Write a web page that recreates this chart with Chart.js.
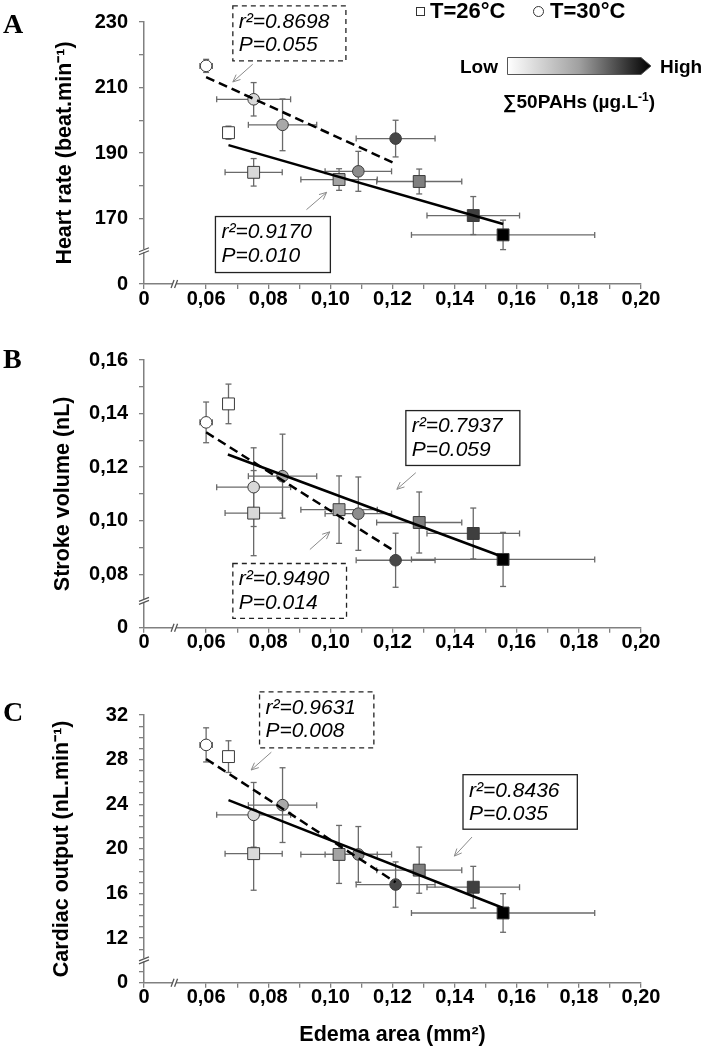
<!DOCTYPE html>
<html>
<head>
<meta charset="utf-8">
<script src="https://cdn.jsdelivr.net/npm/chart.js@4.4.1/dist/chart.umd.min.js"></script>
<style>
  html, body { margin:0; padding:0; background:#fff; }
  #page { position:relative; width:703px; height:1049px; overflow:hidden; background:#fff; }
  canvas { position:absolute; left:0; }
  .t { position:absolute; font-family:"Liberation Sans", Arial, sans-serif; font-weight:bold; color:#000; white-space:nowrap; line-height:1; }
  .letter { position:absolute; font-family:"Liberation Serif","Times New Roman",serif; font-weight:bold; font-size:28px; line-height:1; color:#000; }
  .sym { position:absolute; border:1px solid #333; background:#fff; box-sizing:border-box; }
</style>
</head>
<body>
<div id="page">
  <canvas id="cA" width="703" height="320" style="top:0px"></canvas>
  <canvas id="cB" width="703" height="340" style="top:320px"></canvas>
  <canvas id="cC" width="703" height="389" style="top:660px"></canvas>

  <div class="letter" style="left:3px;top:10px">A</div>
  <div class="letter" style="left:3px;top:345px">B</div>
  <div class="letter" style="left:3px;top:698px">C</div>

  <div class="sym" style="left:416px;top:7px;width:9px;height:9px"></div>
  <div class="t" style="left:430px;top:0px;font-size:22px">T=26°C</div>
  <div class="sym" style="left:533px;top:6px;width:11px;height:11px;border-radius:50%"></div>
  <div class="t" style="left:550px;top:0px;font-size:22px">T=30°C</div>

  <div class="t" style="left:460px;top:57px;font-size:19px">Low</div>
  <svg style="position:absolute;left:0;top:0" width="703" height="120">
    <defs>
      <linearGradient id="gr" x1="0" y1="0" x2="1" y2="0">
        <stop offset="0" stop-color="#ffffff"/>
        <stop offset="0.5" stop-color="#a0a0a0"/>
        <stop offset="1" stop-color="#000000"/>
      </linearGradient>
    </defs>
    <polygon points="507.5,57.5 641,57.5 651,66 641,74.5 507.5,74.5" fill="url(#gr)" stroke="#555" stroke-width="1"/>
  </svg>
  <div class="t" style="left:660px;top:57px;font-size:19px">High</div>
  <div class="t" style="left:503px;top:92px;font-size:19px">∑50PAHs (µg.L<sup style="font-size:12px;vertical-align:7px;line-height:0">-1</sup>)</div>
</div>

<script>
// ---------------- DATA ----------------
// Edema area (x, shared by all panels), T=30°C circles and T=26°C squares
const edemaCircles    = [0.060, 0.0753, 0.0846, 0.109, 0.121];
const edemaCirclesErr = [0.002, 0.0119, 0.0110, 0.0107, 0.0127];
const edemaSquares    = [0.0672, 0.0753, 0.1028, 0.1286, 0.146, 0.1556];
const edemaSquaresErr = [0.0, 0.0092, 0.0123, 0.0137, 0.0149, 0.0295];

// Panel A: heart rate (beat.min-1)
const hrCircles    = [216.6, 206.4, 198.6, 184.4, 194.4];
const hrCirclesErr = [2.0, 5.1, 7.9, 6.1, 5.6];
const hrSquares    = [196.2, 184.1, 181.9, 181.3, 170.9, 165.0];
const hrSquaresErr = [2.0, 4.2, 3.3, 3.8, 5.8, 4.5];
const hrFit30 = [[0.060, 213.2], [0.1203, 187.0]];
const hrFit26 = [[0.0672, 192.4], [0.1556, 168.3]];

// Panel B: stroke volume (nL)
const svCircles    = [0.1367, 0.1125, 0.1166, 0.1026, 0.0852];
const svCirclesErr = [0.0076, 0.0147, 0.0157, 0.0137, 0.0101];
const svSquares    = [0.1436, 0.1028, 0.1041, 0.0993, 0.0952, 0.0855];
const svSquaresErr = [0.0074, 0.0159, 0.0126, 0.0114, 0.0095, 0.0101];
const svFit30 = [[0.060, 0.1330], [0.1197, 0.0893]];
const svFit26 = [[0.067, 0.1247], [0.1556, 0.0864]];

// Panel C: cardiac output (nL.min-1)
const coCircles    = [29.32, 23.05, 23.92, 19.5, 16.8];
const coCirclesErr = [1.53, 2.9, 3.35, 2.5, 2.03];
const coSquares    = [28.27, 19.57, 19.5, 18.09, 16.56, 14.25];
const coSquaresErr = [1.42, 3.28, 2.6, 2.07, 1.87, 1.73];
const coFit30 = [[0.060, 28.06], [0.121, 17.0]];
const coFit26 = [[0.0672, 24.37], [0.1556, 14.7]];

// Tick values and labels (axis breaks: lowest tick is labelled "0")
const edemaTicks      = [0.04, 0.06, 0.07, 0.08, 0.09, 0.10, 0.11, 0.12, 0.13, 0.14, 0.15, 0.16, 0.17, 0.18, 0.19, 0.20];
const edemaTickLabels = ['0', '0,06', '', '0,08', '', '0,10', '', '0,12', '', '0,14', '', '0,16', '', '0,18', '', '0,20'];
const hrTicks      = [150, 170, 180, 190, 200, 210, 220, 230];
const hrTickLabels = ['0', '170', '', '190', '', '210', '', '230'];
const svTicks      = [0.06, 0.08, 0.09, 0.10, 0.11, 0.12, 0.13, 0.14, 0.15, 0.16];
const svTickLabels = ['0', '0,08', '', '0,10', '', '0,12', '', '0,14', '', '0,16'];
const coTicks      = [8, 9, 11, 12, 13, 14, 15, 16, 17, 18, 19, 20, 21, 22, 23, 24, 25, 26, 27, 28, 29, 30, 31, 32];
const coTickLabels = ['0', '', '', '12', '', '', '', '16', '', '', '', '20', '', '', '', '24', '', '', '', '28', '', '', '', '32'];

// Shades (PAH concentration, low -> high)
const circleShades = ['#ffffff', '#d9d9d9', '#a8a8a8', '#8c8c8c', '#474747'];
const squareShades = ['#ffffff', '#d9d9d9', '#a3a3a3', '#7f7f7f', '#3f3f3f', '#000000'];

// ---------------- DRAWING ----------------
const FAM = '"Liberation Sans", Arial, Helvetica, sans-serif';

function labelFor(vals, labels, v) {
  const i = vals.findIndex(t => Math.abs(t - v) < 1e-9);
  return i < 0 ? '' : labels[i];
}

const errorBars = {
  id: 'errorBars',
  beforeDatasetsDraw(chart) {
    const { ctx, scales: { x, y } } = chart;
    ctx.save();
    ctx.strokeStyle = '#6a6a6a';
    ctx.lineWidth = 1.3;
    const seg = (a, b, c, d) => { ctx.beginPath(); ctx.moveTo(a, b); ctx.lineTo(c, d); ctx.stroke(); };
    const cap = 3;
    chart.data.datasets.forEach(ds => {
      if (!ds.errX) return;
      ds.data.forEach((p, i) => {
        const px = x.getPixelForValue(p.x), py = y.getPixelForValue(p.y);
        const ex = ds.errX[i], ey = ds.errY[i];
        if (ex > 0) {
          const xl = x.getPixelForValue(p.x - ex), xr = x.getPixelForValue(p.x + ex);
          seg(xl, py, xr, py); seg(xl, py - cap, xl, py + cap); seg(xr, py - cap, xr, py + cap);
        }
        if (ey > 0) {
          const yt = y.getPixelForValue(p.y + ey), yb = y.getPixelForValue(p.y - ey);
          seg(px, yt, px, yb); seg(px - cap, yt, px + cap, yt); seg(px - cap, yb, px + cap, yb);
        }
      });
    });
    ctx.restore();
  }
};

function extrasPlugin(notes, yBreak) {
  return {
    id: 'extras',
    afterDraw(chart) {
      const { ctx, scales: { x, y } } = chart;
      ctx.save();
      // axis breaks
      const ax = x.left, ay = y.bottom;
      const by = y.getPixelForValue(yBreak);
      ctx.fillStyle = '#fff';
      ctx.fillRect(ax - 2, by - 2, 4, 3);
      ctx.strokeStyle = '#555'; ctx.lineWidth = 1.3;
      ctx.beginPath();
      ctx.moveTo(ax - 5, by + 0.5); ctx.lineTo(ax + 5, by - 3.5);
      ctx.moveTo(ax - 5, by + 3.5); ctx.lineTo(ax + 5, by - 0.5);
      ctx.stroke();
      const bx = x.getPixelForValue(0.05);
      ctx.fillRect(bx - 2, ay - 2, 3, 4);
      ctx.beginPath();
      ctx.moveTo(bx - 4, ay + 4); ctx.lineTo(bx - 1, ay - 4);
      ctx.moveTo(bx - 0.5, ay + 4); ctx.lineTo(bx + 2.5, ay - 4);
      ctx.stroke();

      notes.forEach(n => {
        const l = x.getPixelForValue(n.x0), r = x.getPixelForValue(n.x1);
        const t = y.getPixelForValue(n.y1), b = y.getPixelForValue(n.y0);
        ctx.fillStyle = '#fff';
        ctx.fillRect(l, t, r - l, b - t);
        ctx.setLineDash(n.dashed ? [5, 4] : []);
        ctx.strokeStyle = '#222'; ctx.lineWidth = 1.3;
        ctx.strokeRect(l, t, r - l, b - t);
        ctx.setLineDash([]);
        ctx.fillStyle = '#000';
        ctx.font = 'italic 21px ' + FAM;
        ctx.textBaseline = 'middle'; ctx.textAlign = 'left';
        ctx.fillText(n.lines[0], l + 6, t + 16);
        ctx.fillText(n.lines[1], l + 6, t + 39.5);
        const [a0, a1] = n.arrow;
        const x0 = x.getPixelForValue(a0[0]), y0 = y.getPixelForValue(a0[1]);
        const x1 = x.getPixelForValue(a1[0]), y1 = y.getPixelForValue(a1[1]);
        ctx.strokeStyle = '#8a8a8a'; ctx.lineWidth = 1;
        ctx.beginPath(); ctx.moveTo(x0, y0); ctx.lineTo(x1, y1);
        const ang = Math.atan2(y1 - y0, x1 - x0), h = 8;
        ctx.moveTo(x1, y1); ctx.lineTo(x1 - h * Math.cos(ang - 0.42), y1 - h * Math.sin(ang - 0.42));
        ctx.moveTo(x1, y1); ctx.lineTo(x1 - h * Math.cos(ang + 0.42), y1 - h * Math.sin(ang + 0.42));
        ctx.stroke();
      });
      ctx.restore();
    }
  };
}

function buildPanel(id, p) {
  const pts = (xs, ys) => xs.map((x, i) => ({ x, y: ys[i] }));
  const fit = arr => arr.map(([x, y]) => ({ x, y }));
  const tickFont = { family: FAM, size: 20, weight: 'bold', lineHeight: 1 };
  const titleFont = { family: FAM, size: 21.5, weight: 'bold', lineHeight: 1.2 };
  const gridOpt = { drawOnChartArea: false, drawTicks: true, tickLength: 5, color: '#808080', lineWidth: 1.3 };
  const borderOpt = { display: true, color: '#808080', width: 1.5 };
  new Chart(document.getElementById(id), {
    type: 'scatter',
    data: {
      datasets: [
        { type: 'line', label: 'fit 30', data: fit(p.fit30), borderColor: '#000', borderWidth: 2.5, borderDash: [9, 5],
          pointRadius: 0, fill: false, order: 0, tension: 0 },
        { type: 'line', label: 'fit 26', data: fit(p.fit26), borderColor: '#000', borderWidth: 2.5,
          pointRadius: 0, fill: false, order: 0, tension: 0 },
        { type: 'scatter', label: 'T=30°C', data: pts(edemaCircles, p.circles), errX: edemaCirclesErr, errY: p.circlesErr,
          pointStyle: 'circle', pointRadius: 5.8, backgroundColor: circleShades, borderColor: '#3a3a3a', borderWidth: 1, order: 1 },
        { type: 'scatter', label: 'T=26°C', data: pts(edemaSquares, p.squares), errX: edemaSquaresErr, errY: p.squaresErr,
          pointStyle: 'rect', pointRadius: 8.4, backgroundColor: squareShades, borderColor: '#3a3a3a', borderWidth: 1, order: 1 }
      ]
    },
    options: {
      responsive: false, animation: false, events: [],
      layout: { padding: { top: p.areaTop, right: 62, left: 0, bottom: 0 } },
      plugins: { legend: { display: false }, tooltip: { enabled: false } },
      scales: {
        x: {
          type: 'linear', min: 0.04, max: 0.20,
          afterBuildTicks: s => { s.ticks = edemaTicks.map(v => ({ value: v })); },
          afterFit: s => { s.height = p.canvasH - p.areaBottom; },
          ticks: { autoSkip: false, maxRotation: 0, padding: 0, color: '#000', font: tickFont,
                   callback: v => labelFor(edemaTicks, edemaTickLabels, v) },
          grid: gridOpt, border: borderOpt,
          title: p.xTitle ? { display: true, text: p.xTitle, color: '#000', font: titleFont, padding: { top: 0, bottom: 1.5 } } : { display: false }
        },
        y: {
          type: 'linear', min: p.yMin, max: p.yMax,
          afterBuildTicks: s => { s.ticks = p.yTicks.map(v => ({ value: v })); },
          afterFit: s => { s.width = 144; },
          ticks: { autoSkip: false, padding: 11, color: '#000', font: tickFont,
                   callback: v => labelFor(p.yTicks, p.yLabels, v) },
          grid: gridOpt, border: borderOpt,
          title: { display: true, text: p.yTitle, color: '#000', font: titleFont, padding: { top: p.titlePad, bottom: 0 } }
        }
      }
    },
    plugins: [errorBars, extrasPlugin(p.notes, p.yBreak)]
  });
}

buildPanel('cA', {
  canvasH: 320, areaTop: 22, areaBottom: 284, yMin: 150, yMax: 230, yBreak: 160,
  yTicks: hrTicks, yLabels: hrTickLabels, yTitle: 'Heart rate (beat.min⁻¹)', titlePad: 52,
  circles: hrCircles, circlesErr: hrCirclesErr, squares: hrSquares, squaresErr: hrSquaresErr,
  fit30: hrFit30, fit26: hrFit26,
  notes: [
    { x0: 0.0686, x1: 0.105, y0: 218.1, y1: 234.9, dashed: true, lines: ['r²=0.8698', 'P=0.055'], arrow: [[0.075, 217.1], [0.0686, 211.7]] },
    { x0: 0.063, x1: 0.100, y0: 153.5, y1: 170.6, dashed: false, lines: ['r²=0.9170', 'P=0.010'], arrow: [[0.0923, 172.7], [0.0988, 178.0]] }
  ]
});

buildPanel('cB', {
  canvasH: 340, areaTop: 40, areaBottom: 307.7, yMin: 0.06, yMax: 0.16, yBreak: 0.07,
  yTicks: svTicks, yLabels: svTickLabels, yTitle: 'Stroke volume (nL)', titlePad: 50,
  circles: svCircles, circlesErr: svCirclesErr, squares: svSquares, squaresErr: svSquaresErr,
  fit30: svFit30, fit26: svFit26,
  notes: [
    { x0: 0.1243, x1: 0.161, y0: 0.1206, y1: 0.1411, dashed: false, lines: ['r²=0.7937', 'P=0.059'], arrow: [[0.1275, 0.1179], [0.1214, 0.1117]] },
    { x0: 0.0686, x1: 0.1052, y0: 0.0635, y1: 0.08398, dashed: true, lines: ['r²=0.9490', 'P=0.014'], arrow: [[0.0934, 0.0892], [0.0998, 0.0958]] }
  ]
});

buildPanel('cC', {
  canvasH: 389, areaTop: 55, areaBottom: 322.7, yMin: 8, yMax: 32, yBreak: 10,
  yTicks: coTicks, yLabels: coTickLabels, yTitle: 'Cardiac output (nL.min⁻¹)', titlePad: 49.5,
  xTitle: 'Edema area (mm²)',
  circles: coCircles, circlesErr: coCirclesErr, squares: coSquares, squaresErr: coSquaresErr,
  fit30: coFit30, fit26: coFit26,
  notes: [
    { x0: 0.0772, x1: 0.114, y0: 29.05, y1: 34.07, dashed: true, lines: ['r²=0.9631', 'P=0.008'], arrow: [[0.081, 28.67], [0.0745, 27.07]] },
    { x0: 0.1427, x1: 0.1795, y0: 21.76, y1: 26.65, dashed: false, lines: ['r²=0.8436', 'P=0.035'], arrow: [[0.1456, 21.06], [0.1399, 19.35]] }
  ]
});
</script>
</body>
</html>
